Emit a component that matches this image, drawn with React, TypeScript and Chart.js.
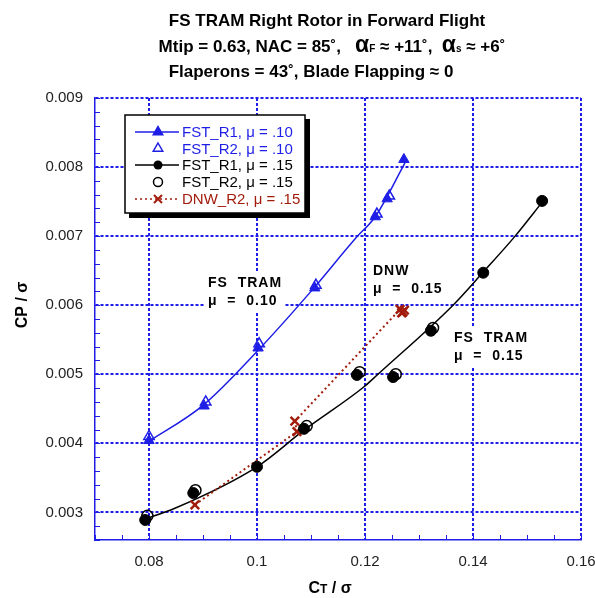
import React, { useEffect, useRef } from "react";
import { Chart, registerables } from "chart.js";

Chart.register(...registerables);

const BLUE = "#1e1ee6";
const BLACK = "#000000";
const RED = "#a21c0c";
const FONT = "'Liberation Sans', Arial, Helvetica, sans-serif";

// ---- data (CT/sigma, CP/sigma) ----
const r1mu10X = [0.08, 0.0902, 0.1002, 0.1107, 0.1219, 0.1241, 0.1272];
const r1mu10Y = [0.00404, 0.00454, 0.00538, 0.00625, 0.00728, 0.00754, 0.00811];
const r2mu10X = [0.08, 0.0905, 0.1004, 0.1109, 0.1222, 0.1245];
const r2mu10Y = [0.0041, 0.0046, 0.00544, 0.00629, 0.00732, 0.00758];
const r1mu15X = [0.0793, 0.0882, 0.1, 0.1087, 0.1185, 0.1252, 0.1322, 0.1419, 0.1528];
const r1mu15Y = [0.00289, 0.00328, 0.00366, 0.00421, 0.00499, 0.00496, 0.00563, 0.00647, 0.00751];
const r2mu15X = [0.0797, 0.0886, 0.1092, 0.119, 0.1257, 0.1326];
const r2mu15Y = [0.00295, 0.00332, 0.00425, 0.00503, 0.005, 0.00567];
const dnwX = [0.0885, 0.1074, 0.107, 0.1265, 0.127, 0.1273, 0.1268];
const dnwY = [0.00311, 0.00417, 0.00432, 0.00594, 0.0059, 0.00593, 0.00589];
// fitted curves
const fit10X = [0.0796, 0.09, 0.1, 0.11, 0.1185, 0.1219, 0.1274];
const fit10Y = [0.00401, 0.00455, 0.00533, 0.0062, 0.00699, 0.00728, 0.00806];
const fit15X = [0.0787, 0.0848, 0.1, 0.1087, 0.12, 0.1224, 0.1363, 0.1419, 0.1478, 0.153];
const fit15Y = [0.00289, 0.00306, 0.00366, 0.00419, 0.00483, 0.005, 0.006, 0.00648, 0.007, 0.00751];

// ---- axes ----
const xRange = [0.07, 0.16];
const yRange = [0.0026, 0.009];
const xMajorTicks = [0.08, 0.1, 0.12, 0.14, 0.16];
const xTickLabels = ["0.08", "0.1", "0.12", "0.14", "0.16"];
const yMajorTicks = [0.003, 0.004, 0.005, 0.006, 0.007, 0.008, 0.009];
const yTickLabels = ["0.003", "0.004", "0.005", "0.006", "0.007", "0.008", "0.009"];
const xMinorStep = 0.005;
const yMinorStep = 0.0002;

const legendLabels = ["FST_R1, \u03bc = .10", "FST_R2, \u03bc = .10", "FST_R1, \u03bc = .15", "FST_R2, \u03bc = .15", "DNW_R2, \u03bc = .15"];

// in-plot annotation blocks: two lines, anchored (left, first baseline) in data units
const annotations: { lines: string[]; x: number; y: number }[] = [
  { lines: ["FS  TRAM", "\u03bc  =  0.10"], x: 0.09093, y: 0.006267 },
  { lines: ["DNW", "\u03bc  =  0.15"], x: 0.12148, y: 0.006441 },
  { lines: ["FS  TRAM", "\u03bc  =  0.15"], x: 0.13648, y: 0.00547 },
];

function steps(min: number, max: number, step: number): number[] {
  const out: number[] = [];
  const n = Math.round((max - min) / step);
  for (let i = 0; i <= n; i++) out.push(Math.round((min + i * step) * 1e7) / 1e7);
  return out;
}
const xTickValues = steps(xRange[0], xRange[1], xMinorStep);
const yTickValues = steps(yRange[0], yRange[1], yMinorStep);

const near = (a: number, b: number) => Math.abs(a - b) < 1e-7;
const majorIndex = (arr: number[], v: number) => arr.findIndex((m) => near(m, v));

const pts = (xs: number[], ys: number[]) => xs.map((x, i) => ({ x, y: ys[i] }));

type Seg = [string, string];
function drawRich(ctx: CanvasRenderingContext2D, segs: Seg[], cx: number, baseY: number) {
  let total = 0;
  for (const [t, f] of segs) {
    ctx.font = f;
    total += ctx.measureText(t).width;
  }
  let x = cx - total / 2;
  ctx.textAlign = "left";
  ctx.textBaseline = "alphabetic";
  for (const [t, f] of segs) {
    ctx.font = f;
    ctx.fillText(t, x, baseY);
    x += ctx.measureText(t).width;
  }
}

function triangle(ctx: CanvasRenderingContext2D, x: number, y: number, r: number, fill: boolean) {
  ctx.beginPath();
  ctx.moveTo(x, y - r);
  ctx.lineTo(x + r * 0.866, y + r * 0.5);
  ctx.lineTo(x - r * 0.866, y + r * 0.5);
  ctx.closePath();
  if (fill) ctx.fill();
  ctx.stroke();
}

const overlay = {
  id: "overlay",
  beforeDatasetsDraw(chart: any) {
    const ctx: CanvasRenderingContext2D = chart.ctx;
    const xs = chart.scales.x;
    const ys = chart.scales.y;
    const area = chart.chartArea;
    ctx.save();
    // inward tick marks
    ctx.strokeStyle = BLUE;
    ctx.lineWidth = 1;
    ctx.setLineDash([]);
    ctx.beginPath();
    for (const v of xTickValues) {
      const px = Math.round(xs.getPixelForValue(v)) + 0.5;
      ctx.moveTo(px, area.bottom);
      ctx.lineTo(px, area.bottom - 5);
    }
    for (const v of yTickValues) {
      const py = Math.round(ys.getPixelForValue(v)) + 0.5;
      ctx.moveTo(area.left, py);
      ctx.lineTo(area.left + 5, py);
    }
    ctx.stroke();

    // in-plot annotations with white backing
    ctx.font = `bold 14px ${FONT}`;
    (ctx as any).letterSpacing = "1px";
    ctx.textAlign = "left";
    ctx.textBaseline = "alphabetic";
    for (const a of annotations) {
      const px = xs.getPixelForValue(a.x);
      const py = ys.getPixelForValue(a.y);
      const w = Math.max(...a.lines.map((l) => ctx.measureText(l).width));
      ctx.fillStyle = "#fff";
      ctx.fillRect(px - 3, py - 14, w + 5, 18 * a.lines.length + 4);
      ctx.fillStyle = "#000";
      a.lines.forEach((l, i) => ctx.fillText(l, px, py + i * 18));
    }
    (ctx as any).letterSpacing = "0px";
    ctx.restore();
  },
  afterDraw(chart: any) {
    const ctx: CanvasRenderingContext2D = chart.ctx;
    ctx.save();
    // title
    ctx.fillStyle = "#000";
    const B17 = `bold 17px ${FONT}`;
    const B23 = `bold 23px ${FONT}`;
    const B10 = `bold 10px ${FONT}`;
    drawRich(ctx, [["FS TRAM Right Rotor in Forward Flight", B17]], 327, 26);
    drawRich(
      ctx,
      [
        ["Mtip = 0.63, NAC = 85\u02da,   ", B17],
        ["\u03b1", B23],
        ["F", B10],
        [" \u2248 +11\u02da,  ", B17],
        ["\u03b1", B23],
        ["s", B10],
        [" \u2248 +6\u02da", B17],
      ],
      332,
      52
    );
    drawRich(ctx, [["Flaperons = 43\u02da, Blade Flapping \u2248 0", B17]], 311, 77);

    // axis titles
    drawRich(ctx, [["C", `bold 16px ${FONT}`], ["T", `bold 12px ${FONT}`], [" / \u03c3", `bold 16px ${FONT}`]], 330, 593);
    ctx.save();
    ctx.translate(27, 305);
    ctx.rotate(-Math.PI / 2);
    drawRich(ctx, [["CP / \u03c3", `bold 16px ${FONT}`]], 0, 0);
    ctx.restore();

    // legend box
    const L = 125, T = 115, W = 180, H = 98;
    ctx.fillStyle = "#000";
    ctx.fillRect(L + 4, T + 4, W + 1, H + 1);
    ctx.fillStyle = "#fff";
    ctx.fillRect(L, T, W, H);
    ctx.strokeStyle = "#000";
    ctx.lineWidth = 1.5;
    ctx.strokeRect(L, T, W, H);

    const rows = [132, 148.5, 165, 182, 199];
    const colors = [BLUE, BLUE, BLACK, BLACK, RED];
    const lx1 = 135, lx2 = 179, sx = 158, tx = 182;
    ctx.font = `15px ${FONT}`;
    ctx.textBaseline = "middle";
    rows.forEach((ry, i) => {
      const c = colors[i];
      ctx.strokeStyle = c;
      ctx.fillStyle = c;
      ctx.lineWidth = 1.5;
      if (i === 0 || i === 2 || i === 4) {
        ctx.setLineDash(i === 4 ? [2, 3] : []);
        ctx.beginPath();
        ctx.moveTo(lx1, ry);
        ctx.lineTo(lx2, ry);
        ctx.stroke();
        ctx.setLineDash([]);
      }
      ctx.lineWidth = 1.5;
      if (i === 0) triangle(ctx, sx, ry, 5.5, true);
      if (i === 1) triangle(ctx, sx, ry, 5.5, false);
      if (i === 2) {
        ctx.beginPath();
        ctx.arc(sx, ry, 4.5, 0, Math.PI * 2);
        ctx.fill();
      }
      if (i === 3) {
        ctx.beginPath();
        ctx.arc(sx, ry, 4.5, 0, Math.PI * 2);
        ctx.stroke();
      }
      if (i === 4) {
        ctx.lineWidth = 2;
        ctx.beginPath();
        ctx.moveTo(sx - 4, ry - 4);
        ctx.lineTo(sx + 4, ry + 4);
        ctx.moveTo(sx + 4, ry - 4);
        ctx.lineTo(sx - 4, ry + 4);
        ctx.stroke();
      }
      ctx.fillStyle = c;
      ctx.textAlign = "left";
      ctx.fillText(legendLabels[i], tx, ry + 1);
    });
    ctx.restore();
  },
};

export default function App() {
  const ref = useRef<HTMLCanvasElement | null>(null);
  useEffect(() => {
    if (!ref.current) return;
    const gridColor = (arr: number[]) => (c: any) =>
      c.tick && majorIndex(arr, c.tick.value) >= 0 ? BLUE : "rgba(0,0,0,0)";
    const tickFont = { family: FONT, size: 15 };
    const chart = new Chart(ref.current, {
      type: "scatter",
      data: {
        datasets: [
          {
            label: "FST_R1, mu=.10",
            data: pts(r1mu10X, r1mu10Y),
            pointStyle: "triangle",
            pointRadius: 6,
            backgroundColor: BLUE,
            borderColor: BLUE,
            borderWidth: 1,
            showLine: false,
          },
          {
            label: "FST_R2, mu=.10",
            data: pts(r2mu10X, r2mu10Y),
            pointStyle: "triangle",
            pointRadius: 6,
            backgroundColor: "rgba(0,0,0,0)",
            borderColor: BLUE,
            borderWidth: 1.5,
            showLine: false,
          },
          {
            label: "FST_R1, mu=.15",
            data: pts(r1mu15X, r1mu15Y),
            pointStyle: "circle",
            pointRadius: 5.5,
            backgroundColor: BLACK,
            borderColor: BLACK,
            borderWidth: 1,
            showLine: false,
          },
          {
            label: "FST_R2, mu=.15",
            data: pts(r2mu15X, r2mu15Y),
            pointStyle: "circle",
            pointRadius: 5.5,
            backgroundColor: "rgba(0,0,0,0)",
            borderColor: BLACK,
            borderWidth: 1.5,
            showLine: false,
          },
          {
            label: "DNW_R2, mu=.15",
            data: pts(dnwX, dnwY),
            pointStyle: "crossRot",
            pointRadius: 6,
            borderColor: RED,
            backgroundColor: RED,
            pointBorderWidth: 2.5,
            borderWidth: 2,
            borderDash: [2, 3],
            showLine: true,
            tension: 0,
          } as any,
          {
            label: "fit mu=.10",
            data: pts(fit10X, fit10Y),
            pointRadius: 0,
            borderColor: BLUE,
            borderWidth: 1.5,
            showLine: true,
            cubicInterpolationMode: "monotone",
          } as any,
          {
            label: "fit mu=.15",
            data: pts(fit15X, fit15Y),
            pointRadius: 0,
            borderColor: BLACK,
            borderWidth: 1.5,
            showLine: true,
            cubicInterpolationMode: "monotone",
          } as any,
        ],
      },
      options: {
        animation: false,
        responsive: false,
        devicePixelRatio: 1,
        events: [],
        layout: { padding: { left: 0, right: 14, top: 98, bottom: 0 } },
        plugins: {
          legend: { display: false },
          title: { display: false },
          tooltip: { enabled: false },
        },
        scales: {
          x: {
            type: "linear",
            min: xRange[0],
            max: xRange[1],
            afterBuildTicks: (s: any) => {
              s.ticks = xTickValues.map((v) => ({ value: v }));
            },
            afterFit: (s: any) => {
              s.height = 58;
              s.paddingLeft = 0;
              s.paddingRight = 0;
            },
            grid: { color: gridColor(xMajorTicks), lineWidth: 2, drawTicks: false },
            border: { display: true, color: BLUE, width: 1.5, dash: [3, 2] },
            ticks: {
              autoSkip: false,
              maxRotation: 0,
              padding: 13,
              color: "#222",
              font: tickFont,
              callback: (v: any) => {
                const i = majorIndex(xMajorTicks, Number(v));
                return i >= 0 ? xTickLabels[i] : "";
              },
            },
          },
          y: {
            type: "linear",
            min: yRange[0],
            max: yRange[1],
            afterBuildTicks: (s: any) => {
              s.ticks = yTickValues.map((v) => ({ value: v }));
            },
            afterFit: (s: any) => {
              s.width = 95;
              s.paddingTop = 0;
              s.paddingBottom = 0;
            },
            grid: { color: gridColor(yMajorTicks), lineWidth: 2, drawTicks: false },
            border: { display: true, color: BLUE, width: 1.5, dash: [3, 2] },
            ticks: {
              autoSkip: false,
              padding: 12,
              color: "#222",
              font: tickFont,
              callback: (v: any) => {
                const i = majorIndex(yMajorTicks, Number(v));
                return i >= 0 ? yTickLabels[i] : "";
              },
            },
          },
        },
      } as any,
      plugins: [overlay],
    });
    return () => chart.destroy();
  }, []);
  return (
    <div style={{ position: "fixed", left: 0, top: 0, width: 595, height: 598, background: "#fff" }}>
      <canvas ref={ref} width={595} height={598} style={{ width: 595, height: 598, display: "block" }} />
    </div>
  );
}
